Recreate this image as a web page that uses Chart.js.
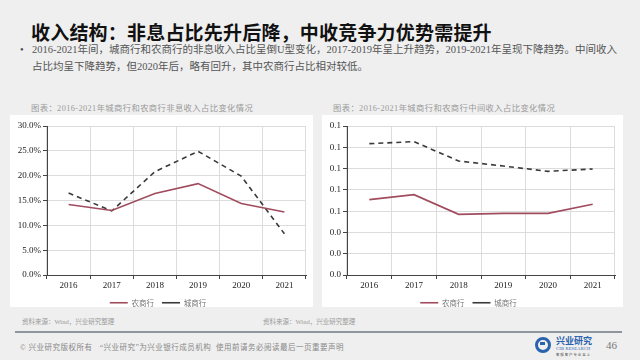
<!DOCTYPE html>
<html><head><meta charset="utf-8">
<script src="https://cdn.jsdelivr.net/npm/chart.js@4/dist/chart.umd.min.js"></script>
<style>
html,body{margin:0;padding:0;}
body{width:640px;height:360px;background:#efefef;position:relative;overflow:hidden;font-family:"Liberation Serif","Noto Sans CJK SC",serif;}
.abs{position:absolute;white-space:nowrap;}
#title{left:31px;top:18px;font-size:19px;font-weight:bold;color:#111;font-family:"Liberation Serif","Noto Sans CJK SC",serif;letter-spacing:0.2px;}
#bullet{left:20px;top:41px;font-size:10.5px;color:#555;line-height:17px;}
#bullet .dot{position:absolute;left:0;top:0;color:#444;}
#bullet .txt{position:absolute;left:12px;top:0;}
.cap{font-size:8.3px;color:#9a9a9a;letter-spacing:0.4px;}
.panel{background:#fff;position:absolute;}
.src{font-size:6.5px;color:#999;}
#rule{left:15px;top:331px;width:607px;height:2px;background:#8e959c;}
#foot{left:20px;top:341px;font-size:7.5px;color:#888;letter-spacing:0.5px;}
#page{left:606px;top:339px;font-size:11px;color:#777;}
#icon{left:535px;top:337px;width:10px;height:10px;border:3px solid #2a62ad;border-radius:50%;}
#icon2{left:540px;top:342px;width:5px;height:3px;background:#2a62ad;}
#lg1{left:556px;top:334px;font-size:9px;color:#2a62ad;font-weight:bold;font-family:"Noto Sans CJK SC";}
#lg2{left:556px;top:346px;font-size:4.5px;color:#2a62ad;letter-spacing:0.2px;}
#lg3{left:556px;top:352px;font-size:3.5px;color:#555;}
</style></head>
<body>
<div id="title" class="abs">收入结构：非息占比先升后降，中收竞争力优势需提升</div>
<div id="bullet" class="abs"><span class="dot">•</span><span class="txt">2016-2021年间，城商行和农商行的非息收入占比呈倒U型变化，2017-2019年呈上升趋势，2019-2021年呈现下降趋势。中间收入<br>占比均呈下降趋势，但2020年后，略有回升，其中农商行占比相对较低。</span></div>

<div class="abs cap" style="left:31px;top:101px;">图表：2016-2021年城商行和农商行非息收入占比变化情况</div>
<div class="abs cap" style="left:333px;top:101px;">图表：2016-2021年城商行和农商行中间收入占比变化情况</div>

<div class="panel" style="left:10px;top:115px;width:303px;height:192px;"><canvas id="c1" width="303" height="192"></canvas></div>
<div class="panel" style="left:322px;top:115px;width:301px;height:192px;"><canvas id="c2" width="301" height="192"></canvas></div>

<div class="abs src" style="left:22px;top:316px;">资料来源：Wind，兴业研究整理</div>
<div class="abs src" style="left:263px;top:316px;">资料来源：Wind，兴业研究整理</div>
<div id="rule" class="abs"></div>
<div id="foot" class="abs">© 兴业研究版权所有 &nbsp;&nbsp;“兴业研究”为兴业银行成员机构 &nbsp;使用前请务必阅读最后一页重要声明</div>
<div id="icon" class="abs"></div><div id="icon2" class="abs"></div>
<div id="lg1" class="abs">兴业研究</div>
<div id="lg2" class="abs">CIB RESEARCH</div>
<div id="lg3" class="abs">客 服 客 户 专 业 至 上</div>
<div id="page" class="abs">46</div>

<script>
const years = ["2016","2017","2018","2019","2020","2021"];
const seriesNames = ["农商行","城商行"];
// 非息收入占比 (%)
const nonInterestRural = [14.2, 13.0, 16.4, 18.4, 14.4, 12.7];
const nonInterestCity  = [16.5, 12.9, 20.8, 24.9, 19.9, 8.3];
// 中间收入占比
const feeRural = [0.0708, 0.0755, 0.0570, 0.0579, 0.0579, 0.0664];
const feeCity  = [0.1234, 0.1253, 0.1071, 0.1024, 0.0974, 0.0996];

const ruralColor = "#a04c5e";
const cityColor = "#3a3a3a";
const tickFont = {family:"Liberation Serif", size:9};
const gridColor = "#dcdcdc";

const legendHeightFix = {
  id: "legendHeightFix",
  beforeLayout(chart) {
    const lg = chart.legend;
    if (lg && !lg._patched) {
      const orig = lg.fit;
      lg.fit = function() { orig.call(this); this.height = 16; };
      lg._patched = true;
    }
  }
};

function makeChart(id, rural, city, yOpts, yWidth, padRight){
  new Chart(document.getElementById(id), {
    type: "line",
    data: {
      labels: years,
      datasets: [
        {label: seriesNames[0], data: rural, borderColor: ruralColor, backgroundColor: ruralColor, borderWidth: 1.6, pointRadius: 0, tension: 0, pointStyle: "line"},
        {label: seriesNames[1], data: city, borderColor: cityColor, backgroundColor: cityColor, borderWidth: 1.6, borderDash: [5,4], pointRadius: 0, tension: 0, pointStyle: "line"}
      ]
    },
    plugins: [legendHeightFix],
    options: {
      responsive: false, animation: false, devicePixelRatio: 1,
      layout: {padding: {top: 11, right: padRight, left: 0, bottom: 0}},
      plugins: {
        legend: {position: "bottom", labels: {usePointStyle: true, pointStyle: "line", pointStyleWidth: 18, boxHeight: 6, padding: 8, color: "#777", font: {family: "Noto Sans CJK SC", size: 7.5}}},
        tooltip: {enabled: false}
      },
      scales: {
        x: {
          offset: true,
          grid: {offset: true, color: gridColor, tickLength: 4, tickColor: "#444", drawTicks: true},
          border: {color: "#444", width: 1},
          ticks: {color: "#222", font: tickFont, padding: 1, maxRotation: 0},
          afterFit: s => { s.height = 16; }
        },
        y: Object.assign({
          grid: {color: gridColor, tickLength: 4, tickColor: "#444"},
          border: {color: "#444", width: 1},
          afterFit: s => { s.width = yWidth; }
        }, yOpts)
      }
    }
  });
}

makeChart("c1", nonInterestRural, nonInterestCity, {
  min: 0, max: 30,
  ticks: {stepSize: 5, color: "#222", font: tickFont, padding: 2, callback: v => v.toFixed(1) + "%"}
}, 37, 7);

makeChart("c2", feeRural, feeCity, {
  min: 0, max: 0.14,
  ticks: {stepSize: 0.02, color: "#222", font: tickFont, padding: 2, callback: v => v.toFixed(1)}
}, 25, 8);
</script>
</body></html>
